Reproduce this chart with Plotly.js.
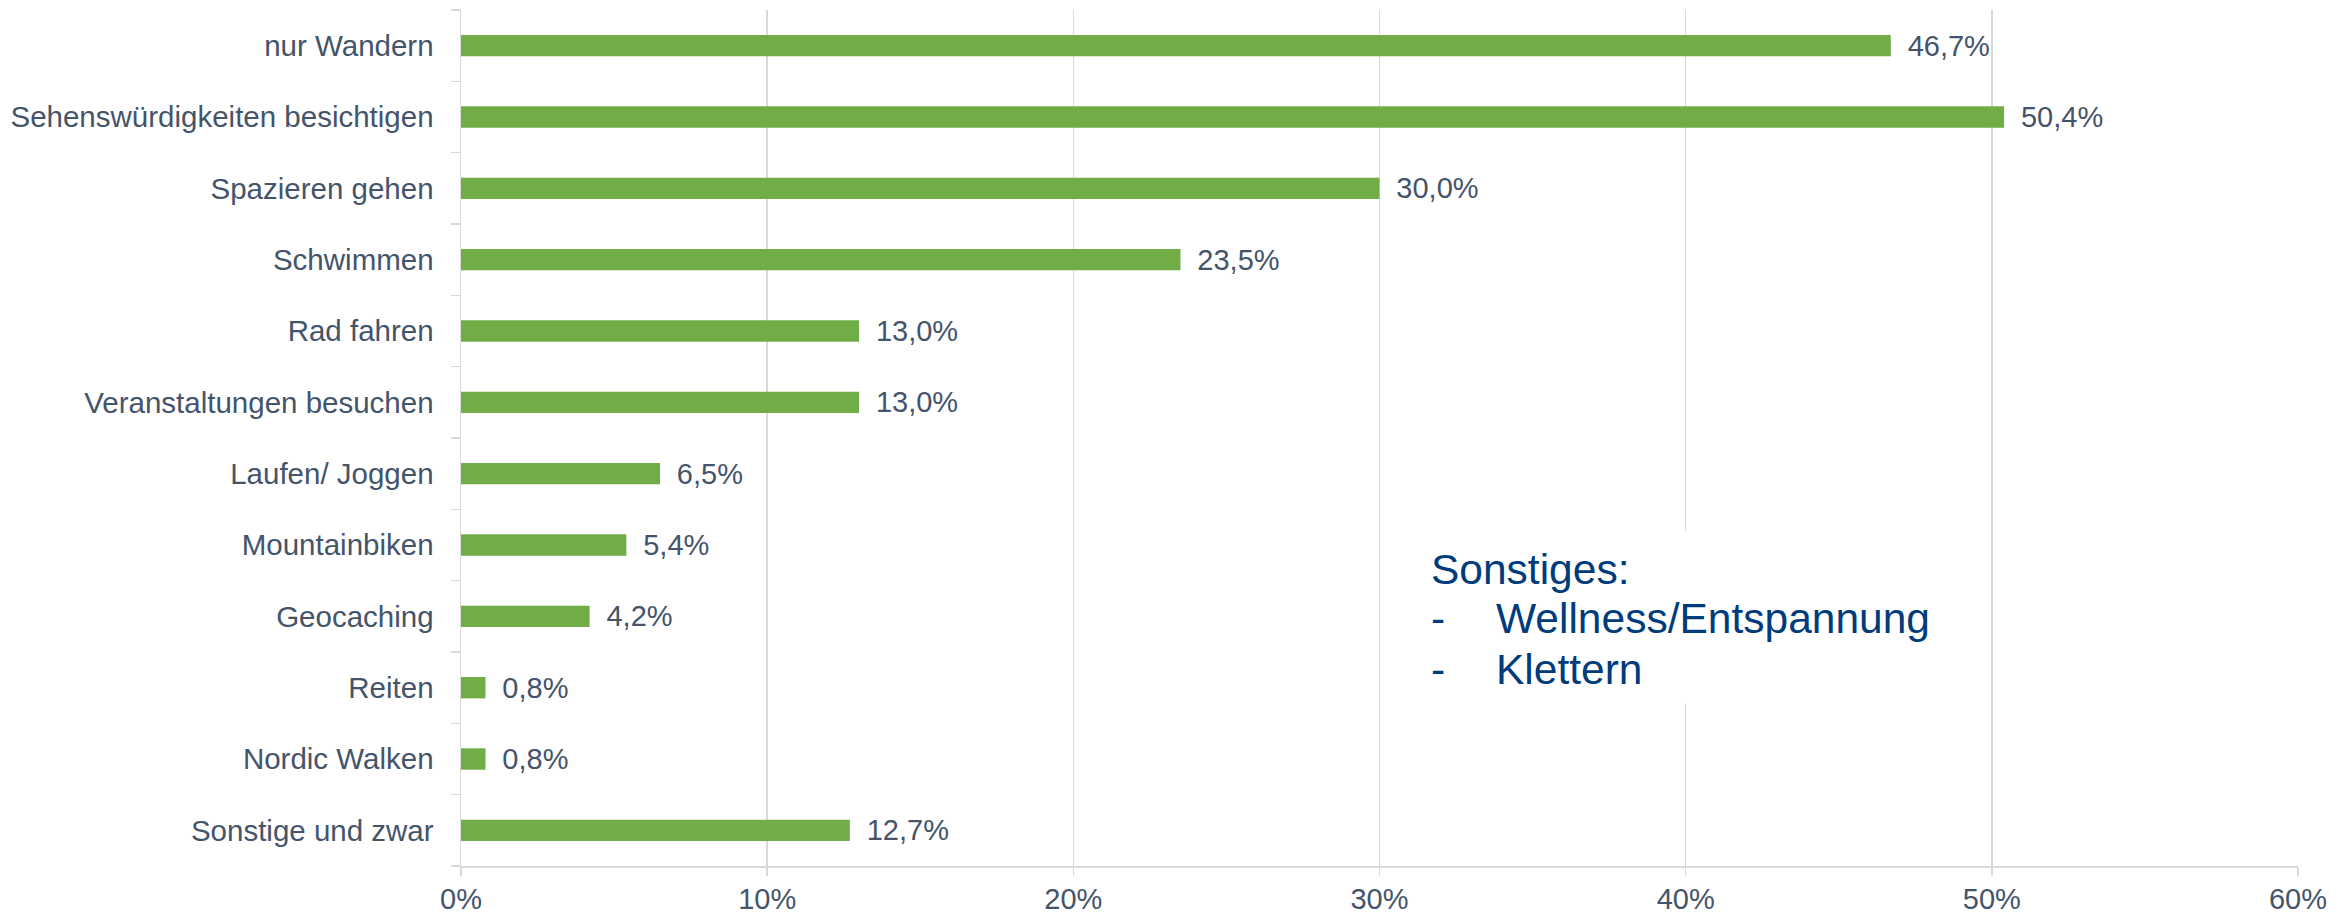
<!DOCTYPE html>
<html>
<head>
<meta charset="utf-8">
<script src="https://cdn.plot.ly/plotly-3.0.1.min.js"></script>
<style>html,body{margin:0;padding:0;background:#fff;}#chart{width:2346px;height:914px;}</style>
</head>
<body>
<div id="chart"></div>
<script>
// Categories top to bottom
const categories = [
  "nur Wandern",
  "Sehenswürdigkeiten besichtigen",
  "Spazieren gehen",
  "Schwimmen",
  "Rad fahren",
  "Veranstaltungen besuchen",
  "Laufen/ Joggen",
  "Mountainbiken",
  "Geocaching",
  "Reiten",
  "Nordic Walken",
  "Sonstige und zwar"
];
// Share in percent
const values = [46.7, 50.4, 30.0, 23.5, 13.0, 13.0, 6.5, 5.4, 4.2, 0.8, 0.8, 12.7];
const xTickValues = [0, 10, 20, 30, 40, 50, 60];
const xTickLabels = ["0%", "10%", "20%", "30%", "40%", "50%", "60%"];
const noteTitle = "Sonstiges:";
const noteItems = ["Wellness/Entspannung", "Klettern"];

const textColor = "#44546A";
const gridColor = "#D9D9D9";
const noteColor = "#003B7C";
const fontFam = "Liberation Sans, Arial, sans-serif";

const trace = {
  type: "bar",
  orientation: "h",
  x: values,
  y: categories,
  width: 0.3,
  marker: {color: "#70AD47"},
  texttemplate: "\u00A0\u2009%{x:.1f}%",
  textposition: "outside",
  constraintext: "none",
  cliponaxis: false,
  textfont: {family: fontFam, size: 29, color: textColor},
  hoverinfo: "skip"
};

const annotations = [];
const noteYs = [0.3458, 0.2886, 0.229];
annotations.push({
  xref: "paper", yref: "paper", x: 0.527, y: noteYs[0],
  xanchor: "left", yanchor: "middle", showarrow: false,
  text: noteTitle, font: {family: fontFam, size: 42.5, color: noteColor}
});
noteItems.forEach((t, i) => {
  annotations.push({
    xref: "paper", yref: "paper", x: 0.527, y: noteYs[i + 1],
    xanchor: "left", yanchor: "middle", showarrow: false,
    text: "-", font: {family: fontFam, size: 42.5, color: noteColor}
  });
  annotations.push({
    xref: "paper", yref: "paper", x: 0.5623, y: noteYs[i + 1],
    xanchor: "left", yanchor: "middle", showarrow: false,
    text: t, font: {family: fontFam, size: 42.5, color: noteColor}
  });
});

const layout = {
  width: 2346,
  height: 914,
  margin: {l: 461, r: 48, t: 10, b: 48},
  paper_bgcolor: "#FFFFFF",
  plot_bgcolor: "#FFFFFF",
  separators: ",.",
  showlegend: false,
  bargap: 0.7,
  font: {family: fontFam, color: textColor},
  xaxis: {
    range: [0, 60],
    tickmode: "array",
    tickvals: xTickValues,
    ticktext: xTickLabels,
    showgrid: true,
    gridcolor: gridColor,
    gridwidth: 1.5,
    zeroline: false,
    showline: true,
    linecolor: gridColor,
    linewidth: 1.5,
    ticks: "outside",
    ticklen: 8,
    tickcolor: gridColor,
    tickwidth: 1.5,
    ticklabelstandoff: -1,
    tickfont: {family: fontFam, size: 29, color: textColor},
    fixedrange: true
  },
  yaxis: {
    type: "category",
    categoryorder: "array",
    categoryarray: categories.slice().reverse(),
    autorange: true,
    showgrid: false,
    zeroline: false,
    showline: true,
    linecolor: gridColor,
    linewidth: 1.5,
    ticks: "outside",
    tickson: "boundaries",
    ticklen: 9,
    tickcolor: gridColor,
    tickwidth: 1.5,
    ticklabelstandoff: 20,
    tickfont: {family: fontFam, size: 29.5, color: textColor},
    fixedrange: true
  },
  shapes: [{
    type: "rect", xref: "paper", yref: "paper",
    x0: 0.511, x1: 0.8106, y0: 0.190, y1: 0.391,
    fillcolor: "#FFFFFF", line: {width: 0}, layer: "above"
  }],
  annotations: annotations
};

Plotly.newPlot("chart", [trace], layout, {displayModeBar: false, staticPlot: true});
</script>
</body>
</html>
